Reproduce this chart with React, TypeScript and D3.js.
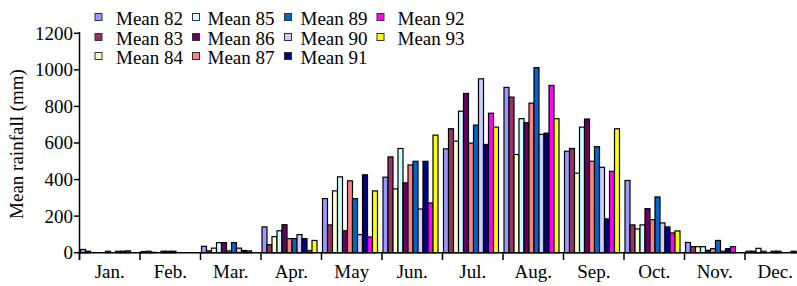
import React from "react";
import * as d3 from "d3";

const months = ["Jan.", "Feb.", "Mar.", "Apr.", "May", "Jun.", "Jul.", "Aug.", "Sep.", "Oct.", "Nov.", "Dec."];
const seriesNames = ["Mean 82", "Mean 83", "Mean 84", "Mean 85", "Mean 86", "Mean 87", "Mean 89", "Mean 90", "Mean 91", "Mean 92", "Mean 93"];
const seriesColors = ["#9999FF", "#993366", "#FFFFCC", "#CCFFFF", "#660066", "#FF8080", "#0066CC", "#CCCCFF", "#000080", "#FF00FF", "#FFFF00"];

// values per series, Jan..Dec
const mean82 = [18, 6, 35, 141, 296, 413, 568, 904, 555, 395, 56, 8];
const mean83 = [8, 8, 10, 44, 152, 524, 678, 851, 570, 152, 33, 8];
const mean84 = [0, 2, 25, 88, 338, 349, 610, 537, 435, 130, 33, 24];
const mean85 = [0, 0, 55, 120, 415, 570, 774, 733, 687, 152, 33, 8];
const mean86 = [0, 8, 55, 153, 120, 382, 871, 711, 731, 241, 13, 0];
const mean87 = [8, 8, 10, 77, 393, 480, 599, 818, 500, 181, 22, 8];
const mean89 = [0, 8, 55, 77, 296, 500, 698, 1012, 580, 305, 67, 8];
const mean90 = [8, 0, 25, 99, 99, 239, 951, 647, 467, 163, 8, 0];
const mean91 = [8, 0, 12, 77, 426, 500, 592, 654, 185, 141, 22, 0];
const mean92 = [10, 0, 10, 12, 86, 272, 763, 915, 445, 108, 33, 8];
const mean93 = [0, 0, 0, 67, 338, 643, 687, 733, 678, 119, 0, 0];

const seriesValues = [mean82, mean83, mean84, mean85, mean86, mean87, mean89, mean90, mean91, mean92, mean93];
const yTicks = [0, 200, 400, 600, 800, 1000, 1200];

// legend layout: columns of series indices
const legendColumns = [[0, 1, 2], [3, 4, 5], [6, 7, 8], [9, 10]];

const W = 797;
const H = 286;
const FONT = "'Liberation Serif', 'Times New Roman', serif";

export default function App() {
  const x0 = 79.5;
  const monthW = 60.5;
  const xMonth = d3.scaleBand<string>().domain(months).range([x0, x0 + monthW * 12]).padding(0);
  const slot = 5.0;
  const xSeries = d3.scaleBand<string>().domain(seriesNames).range([1, 1 + slot * seriesNames.length]).padding(0);
  const y = d3.scaleLinear().domain([0, 1200]).range([252.7, 33.3]);

  const legendBoxX = [95, 192.5, 284.5, 377];
  const legendTextX = [116, 207.5, 300.5, 397.5];
  const legendRowY = [25, 45, 64];

  return (
    <svg width={W} height={H} style={{ position: "absolute", left: 0, top: 0, background: "#fff" }} fontFamily={FONT}>
      {/* bars */}
      {months.map((m, mi) =>
        seriesNames.map((s, si) => {
          const v = seriesValues[si][mi];
          if (!v) return null;
          const bx = (xMonth(m) as number) + (xSeries(s) as number);
          return (
            <rect
              key={m + s}
              x={bx}
              y={y(v)}
              width={xSeries.bandwidth()}
              height={y(0) - y(v)}
              fill={seriesColors[si]}
              stroke="#000"
              strokeWidth={1.2}
            />
          );
        })
      )}
      {/* y axis */}
      <line x1={79.5} x2={79.5} y1={32} y2={260} stroke="#000" strokeWidth={1.5} />
      {yTicks.map((t) => (
        <g key={t}>
          <line x1={74} x2={79.5} y1={y(t)} y2={y(t)} stroke="#000" strokeWidth={1.5} />
          <text x={73} y={y(t)} dy="0.34em" textAnchor="end" fontSize={19} fill="#000">
            {t}
          </text>
        </g>
      ))}
      <text
        transform={`translate(23,${144}) rotate(-90)`}
        textAnchor="middle"
        fontSize={19}
        fill="#000"
      >
        Mean rainfall (mm)
      </text>
      {/* x axis */}
      <line x1={79.5} x2={W} y1={y(0)} y2={y(0)} stroke="#000" strokeWidth={1.5} />
      {months.map((m) => (
        <g key={m}>
          <line x1={xMonth(m) as number} x2={xMonth(m) as number} y1={y(0)} y2={260} stroke="#000" strokeWidth={1.5} />
          <text x={(xMonth(m) as number) + monthW / 2} y={278} textAnchor="middle" fontSize={19} fill="#000">
            {m}
          </text>
        </g>
      ))}
      {/* legend */}
      {legendColumns.map((col, ci) =>
        col.map((si, ri) => (
          <g key={si}>
            <rect
              x={legendBoxX[ci]}
              y={legendRowY[ri] - 11.5}
              width={7}
              height={7}
              fill={seriesColors[si]}
              stroke="#333"
              strokeWidth={1}
            />
            <text x={legendTextX[ci]} y={legendRowY[ri]} fontSize={19} fill="#000">
              {seriesNames[si]}
            </text>
          </g>
        ))
      )}
    </svg>
  );
}
